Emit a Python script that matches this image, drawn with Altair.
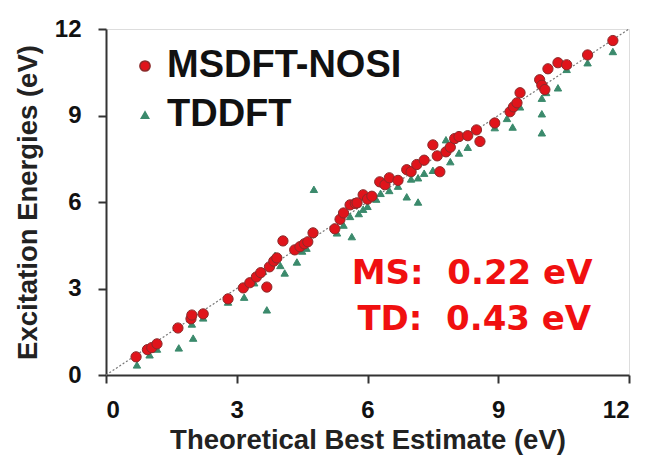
import altair as alt
import pandas as pd

ms_x = [0.69, 0.95, 1.05, 1.17, 1.65, 1.95, 1.97, 2.23, 2.8, 3.15, 3.3, 3.45, 3.55, 3.69, 3.75, 3.85,
        3.92, 4.06, 4.33, 4.45, 4.55, 4.63, 4.75, 5.25, 5.37, 5.45, 5.6, 5.72, 5.76, 5.9, 6.0, 6.1,
        6.28, 6.4, 6.5, 6.7, 6.9, 7.0, 7.13, 7.3, 7.5, 7.6, 7.66, 7.8, 7.9, 8.0, 8.1, 8.3, 8.5, 8.58,
        8.92, 9.27, 9.35, 9.43, 9.5, 9.95, 10.0, 10.07, 10.14, 10.37, 10.57, 11.05, 11.63]
ms_y = [0.63, 0.88, 0.95, 1.08, 1.63, 1.95, 2.08, 2.12, 2.64, 3.02, 3.2, 3.4, 3.55, 3.05, 3.75, 3.95,
        4.06, 4.65, 4.34, 4.45, 4.55, 4.62, 4.93, 5.07, 5.4, 5.62, 5.9, 5.95, 5.97, 6.25, 6.1, 6.2,
        6.7, 6.6, 6.84, 6.75, 7.12, 7.05, 7.3, 7.45, 7.98, 7.6, 7.05, 7.74, 7.9, 8.2, 8.27, 8.3, 8.5, 8.1,
        8.74, 9.13, 9.3, 9.44, 9.79, 10.24, 10.05, 9.9, 10.62, 10.83, 10.76, 11.1, 11.6]

td_x = [0.71, 1.0, 1.17, 1.67, 1.97, 2.0, 2.23, 2.8, 3.17, 3.4, 3.69, 3.6, 3.88, 4.1, 4.0, 4.38,
        4.5, 4.6, 4.77, 5.3, 5.45, 5.64, 5.6, 5.8, 5.9, 6.0, 6.2, 6.3, 6.5, 6.7, 6.9, 7.0, 7.16, 7.16,
        7.3, 7.5, 7.66, 7.8, 7.9, 8.1, 8.3, 8.58, 8.92, 9.2, 9.33, 9.5, 10.0, 10.0, 10.0, 10.1, 10.37,
        10.57, 11.05, 11.63]
td_y = [0.35, 0.7, 0.9, 0.94, 1.77, 1.28, 1.98, 2.53, 2.7, 3.2, 2.26, 3.6, 4.15, 3.54, 3.8, 3.92,
        4.3, 4.4, 6.44, 4.93, 5.2, 4.8, 5.5, 5.6, 5.75, 5.85, 6.1, 6.3, 6.4, 6.55, 6.18, 6.8, 6.0, 6.84,
        7.0, 7.1, 7.05, 8.16, 7.4, 7.7, 7.9, 8.1, 8.58, 8.9, 8.6, 9.3, 9.06, 8.4, 9.6, 9.8, 9.96,
        10.6, 10.83, 11.22]

series_names = ["MSDFT-NOSI", "TDDFT"]
ticks = [0, 3, 6, 9, 12]
notes = ["MS:\u00a0\u00a00.22\u00a0eV", "TD:\u00a0\u00a00.43\u00a0eV"]
note_x = [8.4, 8.45]
note_y = [3.5, 1.92]

df = pd.concat([
    pd.DataFrame({"x": ms_x, "y": ms_y, "s": series_names[0]}),
    pd.DataFrame({"x": td_x, "y": td_y, "s": series_names[1]}),
])
diag = pd.DataFrame({"x": [0, 12], "y": [0, 12]})
notes_df = pd.DataFrame({"x": note_x, "y": note_y, "t": notes})

FONT = "Liberation Sans"
xs = alt.Scale(domain=[0, 12], nice=False)
ys = alt.Scale(domain=[0, 12], nice=False)

common = dict(grid=False, labelFontSize=24, labelFont=FONT, labelFontWeight="bold",
              labelColor="#111", titleFontSize=27.5, titleFont=FONT, titleFontWeight="bold",
              titleColor="#222", tickSize=8, tickWidth=2, tickColor="#333",
              domainColor="#333", domainWidth=2)
xax = alt.Axis(values=ticks, title="Theoretical  Best Estimate (eV)", labelPadding=15,
               titlePadding=4, **common)
yax = alt.Axis(values=ticks, title="Excitation  Energies (eV)", labelPadding=17,
               titlePadding=12, **common)

line = alt.Chart(diag).mark_line(color="#777", strokeDash=[2, 2], strokeWidth=1.2).encode(
    x=alt.X("x:Q", scale=xs, axis=xax), y=alt.Y("y:Q", scale=ys, axis=yax))

leg = alt.Legend(title=None, orient="none", legendX=20, legendY=18,
                 labelFontSize=38, labelFont=FONT, labelFontWeight="bold", labelLimit=500,
                 labelColor="#111", rowPadding=11, labelOffset=3)

pts = alt.Chart(df).mark_point(filled=True, opacity=1, strokeWidth=1).encode(
    x=alt.X("x:Q", scale=xs), y=alt.Y("y:Q", scale=ys),
    shape=alt.Shape("s:N", scale=alt.Scale(domain=series_names, range=["circle", "triangle-up"]),
                    legend=leg),
    color=alt.Color("s:N", scale=alt.Scale(domain=series_names, range=["#e0141b", "#3b8a6c"]),
                    legend=leg),
    size=alt.Size("s:N", scale=alt.Scale(domain=series_names, range=[105, 55]), legend=leg),
    stroke=alt.Stroke("s:N", scale=alt.Scale(domain=series_names, range=["#8a2a2a", "#3b8a6c"]),
                      legend=leg),
    order=alt.Order("s:N", sort="descending"),
)

txt = alt.Chart(notes_df).mark_text(color="#f01010", fontSize=34, fontWeight="bold",
                                    font="DejaVu Sans", align="center", baseline="middle").encode(
    x=alt.X("x:Q", scale=xs), y=alt.Y("y:Q", scale=ys), text="t:N")

chart = alt.layer(line, pts, txt).properties(
    width=523, height=346,
    padding={"left": 106, "top": 29, "right": 24, "bottom": 87},
    autosize=alt.AutoSizeParams(type="none"),
).configure_view(stroke="#444", strokeWidth=1.5).configure(background="white")

chart.save("out.html", embed_options={"renderer": "svg", "actions": False})
